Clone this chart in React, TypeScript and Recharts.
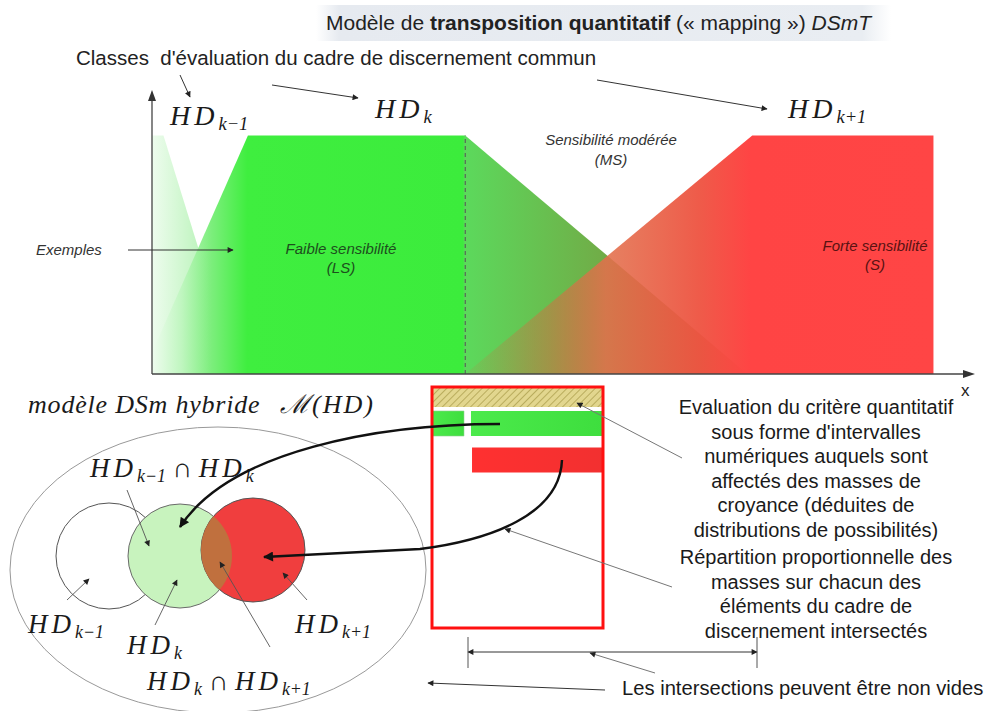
import React from 'react';
import { ComposedChart, Area, XAxis, YAxis, ReferenceLine, BarChart, Bar, Cell } from 'recharts';

// membership functions of the evaluation classes (x: criterion scale 0..100, y: degree)
const hdPrevX = [0, 1.4, 10.4];
const hdPrevY = [1, 1, 0];
const lsX = [0, 11.7, 38.2, 72.6];
const lsY = [0.09, 1, 1, 0];
const sX = [38.2, 73.2, 95.3, 95.3];
const sY = [0, 1, 1, 0];
const splitX = 38.2;

// intervals drawn inside the box (percent of the box width)
const intervalRows = ['LS', 'S'];
const firstInterval = [18.7, 0];
const intervalGap = [4.1, 23.4];
const mainInterval = [77.2, 76.6];
const intervalColors = ['url(#barGreen)', 'url(#barRed)'];

const rightText = [
  'Evaluation du critère quantitatif',
  "sous forme d'intervalles",
  'numériques auquels sont',
  'affectés des masses de',
  'croyance (déduites de',
  'distributions de possibilités)',
  'Répartition proportionnelle des',
  'masses sur chacun des',
  'éléments du cadre de',
  'discernement intersectés',
];

const SANS = '"Liberation Sans", Arial, sans-serif';
const SERIF = '"Liberation Serif", "DejaVu Serif", serif';

const toPoints = (xs: number[], ys: number[]) => xs.map((x, i) => ({ x, y: ys[i] }));

const hdPrev = toPoints(hdPrevX, hdPrevY);
const ls = toPoints(lsX, lsY);
const strong = toPoints(sX, sY);

const boxData = intervalRows.map((row, i) => ({
  row,
  first: firstInterval[i],
  gap: intervalGap[i],
  main: mainInterval[i],
}));

// italic math label like HD_{k-1} ∩ HD_k
const HD = ({ x, y, subs, size = 28 }: { x: number; y: number; subs: string[]; size?: number }) => {
  const d = size * 0.17;
  const parts: React.ReactNode[] = [];
  subs.forEach((sb, i) => {
    if (i > 0) {
      parts.push(
        <tspan key={'c' + i} dy={-d} fontStyle="normal">
          {' ∩ '}
        </tspan>
      );
    }
    parts.push(
      <tspan key={'h' + i} letterSpacing={4}>
        HD
      </tspan>
    );
    parts.push(
      <tspan key={'s' + i} fontSize={size * 0.66} dy={d}>
        {sb}
      </tspan>
    );
  });
  return (
    <text x={x} y={y} fontFamily={SERIF} fontStyle="italic" fontSize={size} fill="#1a1a1a" style={{ whiteSpace: 'pre' }}>
      {parts}
    </text>
  );
};

const Overlay = () => (
  <svg width={988} height={711} style={{ position: 'absolute', left: 0, top: 0, pointerEvents: 'none' }}>
    <defs>
      <marker id="aS" viewBox="0 0 10 10" refX="9" refY="5" markerWidth="7" markerHeight="6" markerUnits="userSpaceOnUse" orient="auto-start-reverse">
        <path d="M0,0 L10,5 L0,10 z" fill="#222" />
      </marker>
      <marker id="aL" viewBox="0 0 10 10" refX="9" refY="5" markerWidth="12" markerHeight="10" markerUnits="userSpaceOnUse" orient="auto">
        <path d="M0,0 L10,5 L0,10 z" fill="#111" />
      </marker>
      <linearGradient id="titleBg" x1="0" y1="0" x2="1" y2="0">
        <stop offset="0" stopColor="#e6eaf0" stopOpacity={0} />
        <stop offset="0.04" stopColor="#e6eaf0" />
        <stop offset="0.95" stopColor="#e9edf2" />
        <stop offset="1" stopColor="#e9edf2" stopOpacity={0} />
      </linearGradient>
      <pattern id="hatch" width="5" height="5" patternUnits="userSpaceOnUse" patternTransform="rotate(45)">
        <rect width="5" height="5" fill="#e2d68e" />
        <line x1="0" y1="0" x2="0" y2="5" stroke="#a89a48" strokeWidth="1.4" />
      </pattern>
      <clipPath id="greenClip">
        <circle cx={180} cy={556} r={52} />
      </clipPath>
    </defs>

    {/* title */}
    <rect x={316} y={5} width={575} height={36} fill="url(#titleBg)" />
    <text x={326} y={30} fontFamily={SANS} fontSize={21} fill="#222" style={{ whiteSpace: 'pre' }}>
      <tspan>Modèle de </tspan>
      <tspan fontWeight="bold">transposition quantitatif</tspan>
      <tspan> (« mapping ») </tspan>
      <tspan fontStyle="italic">DSmT</tspan>
    </text>
    <text x={76} y={65} fontFamily={SANS} fontSize={20.5} fill="#222" style={{ whiteSpace: 'pre' }}>
      Classes  d'évaluation du cadre de discernement commun
    </text>
    <line x1={180} y1={75} x2={190} y2={97} stroke="#333" markerEnd="url(#aS)" />
    <line x1={272} y1={85} x2={358} y2={98} stroke="#333" markerEnd="url(#aS)" />
    <line x1={597} y1={80} x2={767} y2={109} stroke="#333" markerEnd="url(#aS)" />

    <HD x={170} y={125} subs={['k−1']} />
    <HD x={375} y={118} subs={['k']} />
    <HD x={788} y={118} subs={['k+1']} />

    {/* axes arrows */}
    <path d="M152,90 L148,101 L156,101 z" fill="#333" />
    <path d="M975,374 L963,370 L963,378 z" fill="#333" />
    <text x={961} y={396} fontFamily={SANS} fontSize={17} fill="#222">
      x
    </text>

    {/* plot annotations */}
    <g fontFamily={SANS} fontStyle="italic" fontSize={15} textAnchor="middle">
      <text x={341} y={254} fill="#1d4f1d">Faible sensibilité</text>
      <text x={341} y={273} fill="#1d4f1d">(LS)</text>
      <text x={611} y={145} fill="#333">Sensibilité modérée</text>
      <text x={611} y={165} fill="#333">(MS)</text>
      <text x={875} y={251} fill="#5a1212">Forte sensibilité</text>
      <text x={875} y={270} fill="#5a1212">(S)</text>
    </g>
    <text x={36} y={255} fontFamily={SANS} fontStyle="italic" fontSize={15} fill="#333">
      Exemples
    </text>
    <line x1={128} y1={250} x2={233} y2={250} stroke="#333" markerEnd="url(#aS)" />

    {/* hybrid DSm model */}
    <text x={28} y={413} fontFamily={SERIF} fontStyle="italic" fontSize={26} letterSpacing={0.8} fill="#1a1a1a">
      modèle DSm hybride
    </text>
    <text x={280} y={413} fontFamily={SERIF} fontStyle="italic" fontSize={26} letterSpacing={2} fill="#1a1a1a">
      ℳ(HD)
    </text>
    <ellipse cx={218} cy={570} rx={208} ry={143} fill="none" stroke="#999" strokeWidth={1} />
    <circle cx={109} cy={556} r={53} fill="#fff" stroke="#555" strokeWidth={1} />
    <circle cx={180} cy={556} r={52} fill="#c8f3be" stroke="#6a6a6a" strokeWidth={1} />
    <circle cx={253} cy={550} r={52} fill="#f03e3e" stroke="#555" strokeWidth={1} />
    <circle cx={253} cy={550} r={52} fill="#c0703e" clipPath="url(#greenClip)" />

    <HD x={90} y={477} subs={['k−1', 'k']} size={27} />
    <HD x={28} y={633} subs={['k−1']} size={27} />
    <HD x={127} y={654} subs={['k']} size={27} />
    <HD x={147} y={690} subs={['k', 'k+1']} size={27} />
    <HD x={295} y={633} subs={['k+1']} size={27} />

    <g stroke="#555" strokeWidth={0.9}>
      <line x1={127} y1={490} x2={149} y2={546} markerEnd="url(#aS)" />
      <line x1={67} y1={600} x2={89} y2={579} markerEnd="url(#aS)" />
      <line x1={155} y1={625} x2={177} y2={580} markerEnd="url(#aS)" />
      <line x1={270} y1={647} x2={220} y2={562} markerEnd="url(#aS)" />
      <line x1={307} y1={600} x2={283} y2={573} markerEnd="url(#aS)" />
    </g>

    {/* box */}
    <rect x={432} y={387} width={171} height={20} fill="url(#hatch)" />
    <rect x={432} y={387} width={171} height={241} fill="none" stroke="#ff1010" strokeWidth={3} />

    {/* curved arrows */}
    <path d="M500,424 C380,424 230,450 180,527" fill="none" stroke="#111" strokeWidth={2.4} markerEnd="url(#aL)" />
    <path d="M562,460 C560,515 490,540 420,549 L264,557" fill="none" stroke="#111" strokeWidth={2.4} markerEnd="url(#aL)" />

    {/* right explanations */}
    <g stroke="#777" strokeWidth={1}>
      <line x1={682} y1={458} x2={577} y2={403} markerEnd="url(#aS)" />
      <line x1={672} y1={587} x2={505} y2={529} markerEnd="url(#aS)" />
      <line x1={655} y1={673} x2={590} y2={653} markerEnd="url(#aS)" />
    </g>
    <g fontFamily={SANS} fontSize={20} fill="#1a1a1a" textAnchor="middle">
      {rightText.map((t, i) => (
        <text key={t} x={816} y={414 + i * 24.5 + (i >= 6 ? 3 : 0)}>
          {t}
        </text>
      ))}
    </g>
    <line x1={468} y1={652} x2={757} y2={652} stroke="#333" markerStart="url(#aS)" markerEnd="url(#aS)" />
    <line x1={468} y1={637} x2={468} y2={668} stroke="#555" />
    <line x1={757} y1={637} x2={757} y2={668} stroke="#555" />
    <line x1={605} y1={690} x2={428} y2={683} stroke="#333" markerEnd="url(#aS)" />
    <text x={622} y={695} fontFamily={SANS} fontSize={20.2} fill="#1a1a1a">
      Les intersections peuvent être non vides
    </text>
  </svg>
);

export default function App() {
  return (
    <div style={{ position: 'absolute', left: 0, top: 0, width: 988, height: 711, background: '#fff', overflow: 'hidden' }}>
      <div style={{ position: 'absolute', left: 0, top: 0 }}>
        <ComposedChart width={988} height={400} margin={{ top: 95, right: 16, bottom: 26, left: 152 }}>
          <defs>
            <linearGradient id="gPrev" x1="0" y1="0" x2="1" y2="0">
              <stop offset="0" stopColor="#eefcee" />
              <stop offset="0.5" stopColor="#c4f5c4" />
              <stop offset="1" stopColor="#96ee96" />
            </linearGradient>
            <linearGradient id="gLS" x1="0" y1="0" x2="1" y2="0">
              <stop offset="0" stopColor="#effcef" />
              <stop offset="0.05" stopColor="#bff6bf" />
              <stop offset="0.1" stopColor="#7cee7c" />
              <stop offset="0.16" stopColor="#3fee3f" />
              <stop offset="0.522" stopColor="#3cec3c" />
              <stop offset="0.526" stopColor="#5cd95c" />
              <stop offset="0.75" stopColor="#70ae48" />
              <stop offset="1" stopColor="#8a6a30" />
            </linearGradient>
            <linearGradient id="gS" x1="0" y1="0" x2="1" y2="0">
              <stop offset="0" stopColor="#c87040" stopOpacity={0.1} />
              <stop offset="0.18" stopColor="#d86a40" stopOpacity={0.5} />
              <stop offset="0.3" stopColor="#e2704c" stopOpacity={0.88} />
              <stop offset="0.5" stopColor="#ee5442" stopOpacity={0.96} />
              <stop offset="0.61" stopColor="#ff4444" stopOpacity={1} />
              <stop offset="1" stopColor="#ff4545" stopOpacity={1} />
            </linearGradient>
          </defs>
          <XAxis type="number" dataKey="x" domain={[0, 100]} allowDataOverflow hide />
          <YAxis type="number" domain={[0, 1.17]} hide />
          <Area data={hdPrev} dataKey="y" type="linear" stroke="none" fill="url(#gPrev)" fillOpacity={1} isAnimationActive={false} />
          <Area data={ls} dataKey="y" type="linear" stroke="none" fill="url(#gLS)" fillOpacity={1} isAnimationActive={false} />
          <Area data={strong} dataKey="y" type="linear" stroke="none" fill="url(#gS)" fillOpacity={1} isAnimationActive={false} />
          <ReferenceLine segment={[{ x: splitX, y: 0 }, { x: splitX, y: 1 }]} stroke="#555" strokeDasharray="4 3" />
          <ReferenceLine y={0} stroke="#444" strokeWidth={1.3} />
          <ReferenceLine x={0} stroke="#444" strokeWidth={1.3} />
        </ComposedChart>
      </div>
      <div style={{ position: 'absolute', left: 432, top: 405 }}>
        <BarChart width={171} height={73} layout="vertical" data={boxData} margin={{ top: 0, right: 0, bottom: 0, left: 0 }} barSize={25}>
          <defs>
            <linearGradient id="barGreen" x1="0" y1="0" x2="1" y2="0">
              <stop offset="0" stopColor="#4bea4b" />
              <stop offset="1" stopColor="#3ede3e" />
            </linearGradient>
            <linearGradient id="barRed" x1="0" y1="0" x2="1" y2="0">
              <stop offset="0" stopColor="#ff3030" />
              <stop offset="1" stopColor="#f23030" />
            </linearGradient>
          </defs>
          <XAxis type="number" domain={[0, 100]} hide />
          <YAxis type="category" dataKey="row" hide />
          <Bar dataKey="first" stackId="r" fill="url(#barGreen)" stroke="#8fcf8f" strokeWidth={0.6} isAnimationActive={false} />
          <Bar dataKey="gap" stackId="r" fill="transparent" isAnimationActive={false} />
          <Bar dataKey="main" stackId="r" isAnimationActive={false}>
            {boxData.map((d, i) => (
              <Cell key={d.row} fill={intervalColors[i]} />
            ))}
          </Bar>
        </BarChart>
      </div>
      <Overlay />
    </div>
  );
}
